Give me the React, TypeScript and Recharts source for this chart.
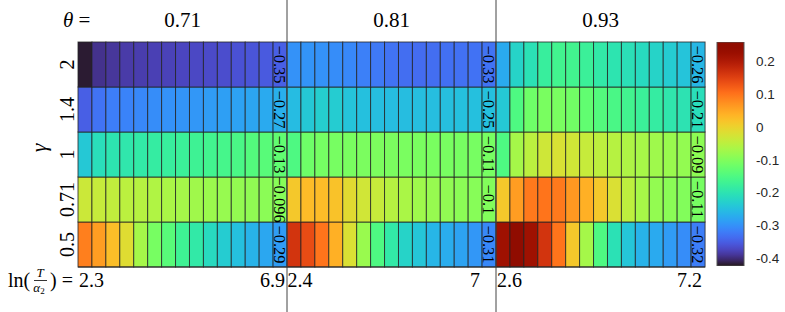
import React from "react";
import { BarChart, Bar, XAxis, YAxis } from "recharts";

// panel titles, row labels, x tick labels
const thetas = ["0.71", "0.81", "0.93"];
const gammas = ["0.5", "0.71", "1", "1.4", "2"]; // bottom to top
const xTickCols = [0, 14, 15, 29, 30, 44];
const xTickLabels = ["2.3", "6.9", "2.4", "7", "2.6", "7.2"];
const cbTicks = [-0.4, -0.3, -0.2, -0.1, 0, 0.1, 0.2];

// theta = 0.71
const p071_g2 = [-0.42, -0.395, -0.39, -0.385, -0.383, -0.38, -0.378, -0.375, -0.372, -0.37, -0.367, -0.363, -0.36, -0.355, -0.35];
const p071_g14 = [-0.35, -0.33, -0.32, -0.315, -0.31, -0.305, -0.3, -0.298, -0.295, -0.29, -0.287, -0.283, -0.28, -0.275, -0.27];
const p071_g1 = [-0.24, -0.21, -0.2, -0.195, -0.19, -0.185, -0.18, -0.175, -0.17, -0.165, -0.16, -0.155, -0.145, -0.14, -0.13];
const p071_g071 = [-0.035, -0.04, -0.045, -0.05, -0.055, -0.06, -0.065, -0.07, -0.074, -0.078, -0.082, -0.085, -0.088, -0.092, -0.096];
const p071_g05 = [0.09, 0.06, 0.025, -0.015, -0.07, -0.11, -0.14, -0.17, -0.19, -0.215, -0.235, -0.25, -0.265, -0.278, -0.29];

// theta = 0.81
const p081_g2 = [-0.3, -0.298, -0.3, -0.305, -0.31, -0.318, -0.325, -0.33, -0.335, -0.337, -0.335, -0.333, -0.332, -0.331, -0.33];
const p081_g14 = [-0.255, -0.24, -0.232, -0.235, -0.245, -0.25, -0.252, -0.253, -0.253, -0.252, -0.252, -0.251, -0.25, -0.25, -0.25];
const p081_g1 = [-0.15, -0.118, -0.112, -0.11, -0.108, -0.106, -0.105, -0.106, -0.107, -0.108, -0.108, -0.109, -0.11, -0.11, -0.11];
const p081_g071 = [0.013, 0.027, 0.027, 0.02, -0.012, -0.03, -0.04, -0.055, -0.065, -0.075, -0.082, -0.087, -0.092, -0.096, -0.1];
const p081_g05 = [0.165, 0.14, 0.1, 0.04, -0.02, -0.08, -0.15, -0.19, -0.225, -0.243, -0.262, -0.272, -0.282, -0.295, -0.31];

// theta = 0.93
const p093_g2 = [-0.275, -0.225, -0.205, -0.18, -0.165, -0.165, -0.175, -0.19, -0.2, -0.207, -0.215, -0.225, -0.235, -0.245, -0.26];
const p093_g14 = [-0.24, -0.15, -0.118, -0.108, -0.108, -0.115, -0.13, -0.145, -0.155, -0.165, -0.175, -0.185, -0.195, -0.202, -0.21];
const p093_g1 = [-0.15, -0.07, -0.05, -0.032, -0.022, -0.03, -0.04, -0.048, -0.055, -0.062, -0.068, -0.075, -0.08, -0.085, -0.09];
const p093_g071 = [0.013, 0.06, 0.095, 0.1, 0.095, 0.065, 0.04, 0.013, -0.02, -0.048, -0.068, -0.085, -0.093, -0.1, -0.11];
const p093_g05 = [0.22, 0.25, 0.22, 0.165, 0.1, 0.013, -0.07, -0.15, -0.205, -0.243, -0.265, -0.275, -0.29, -0.305, -0.32];

const rows: number[][] = [
  [...p071_g05, ...p081_g05, ...p093_g05],
  [...p071_g071, ...p081_g071, ...p093_g071],
  [...p071_g1, ...p081_g1, ...p093_g1],
  [...p071_g14, ...p081_g14, ...p093_g14],
  [...p071_g2, ...p081_g2, ...p093_g2],
];

const VMIN = -0.425;
const VMAX = 0.26;

// turbo colormap (polynomial fit)
function turbo(t: number) {
  t = Math.max(0, Math.min(1, t));
  const r = 0.13572138 + t * (4.6153926 + t * (-42.66032258 + t * (132.13108234 + t * (-152.94239396 + t * 59.28637943))));
  const g = 0.09140261 + t * (2.19418839 + t * (4.84296658 + t * (-14.18503333 + t * (4.27729857 + t * 2.82956604))));
  const b = 0.1066733 + t * (12.64194608 + t * (-60.58204836 + t * (110.36276771 + t * (-89.90310912 + t * 27.34824973))));
  const c = (x: number) => Math.round(Math.max(0, Math.min(1, x)) * 255);
  return `rgb(${c(r)},${c(g)},${c(b)})`;
}
const colorOf = (v: number) => turbo((v - VMIN) / (VMAX - VMIN));

const fmt = (v: number) => String(Number(v.toPrecision(2))).replace("-", "\u2212");

const data = rows[0].map((_, col) => {
  const d: any = { col };
  gammas.forEach((_, i) => (d[`r${i}`] = 1));
  return d;
});

const SERIF = "Liberation Serif, Times New Roman, serif";

const makeShape = (rowIdx: number) => (props: any) => {
  const { x, y, width, height, payload } = props;
  const col = payload.col;
  const v = rows[rowIdx][col];
  const isLast = col % 15 === 14;
  return (
    <g>
      <rect x={x} y={y} width={width} height={height} fill={colorOf(v)} stroke="rgba(35,35,35,0.8)" strokeWidth={1} />
      {isLast && (
        <text
          transform={`translate(${x + width / 2 - 0.5}, ${y + height / 2}) rotate(90)`}
          textAnchor="middle"
          dominantBaseline="central"
          style={{ fontFamily: SERIF }}
          fontSize={16.5}
          fill="#000"
        >
          {fmt(v)}
        </text>
      )}
    </g>
  );
};

const XTick = (props: any) => {
  const { x, payload } = props;
  const k = xTickCols.indexOf(Number(payload.value));
  if (k < 0) return null;
  const bw = 627 / 45;
  let tx = x;
  let anchor: "start" | "end" | "middle" = "middle";
  if (k === 0) { tx = x - bw / 2 + 1; anchor = "start"; }
  if (k === 1) { tx = x + bw / 2 - 2; anchor = "end"; }
  if (k === 2) { tx = x - bw / 2 + 0.5; anchor = "start"; }
  if (k === 3) { tx = x - bw; anchor = "middle"; }
  if (k === 4) { tx = x - bw / 2 + 1; anchor = "start"; }
  if (k === 5) { tx = x + bw / 2 - 3; anchor = "end"; }
  return (
    <text x={tx} y={287} textAnchor={anchor} style={{ fontFamily: SERIF }} fontSize={20} fill="#000">
      {xTickLabels[k]}
    </text>
  );
};

const YTick = (props: any) => {
  const { y, payload } = props;
  const i = Math.floor(Number(payload.value));
  return (
    <text
      transform={`translate(67, ${y}) rotate(-90)`}
      textAnchor="middle"
      dominantBaseline="central"
      style={{ fontFamily: SERIF }}
      fontSize={20}
      fill="#000"
    >
      {gammas[i]}
    </text>
  );
};

const gradStops = Array.from({ length: 41 }, (_, i) => i / 40);

export default function App() {
  const plotLeft = 78;
  const plotRight = 705;
  const bw = (plotRight - plotLeft) / 45;
  const dividers = [plotLeft + 15 * bw, plotLeft + 30 * bw];
  const serif = { fontFamily: SERIF };
  return (
    <div style={{ position: "absolute", left: 0, top: 0, width: 785, height: 312, background: "#fff" }}>
      <div style={{ position: "absolute", left: 0, top: 0 }}>
        <BarChart
          width={785}
          height={312}
          data={data}
          margin={{ top: 42, right: 80, bottom: 15, left: 38 }}
          barCategoryGap={0}
          barGap={0}
        >
          <XAxis
            dataKey="col"
            interval={0}
            tickLine={false}
            axisLine={{ stroke: "#262626" }}
            height={30}
            tick={<XTick />}
          />
          <YAxis
            type="number"
            domain={[0, 5]}
            ticks={[0.5, 1.5, 2.5, 3.5, 4.5]}
            width={40}
            axisLine={false}
            tickLine={false}
            tick={<YTick />}
          />
          {gammas.map((g, i) => (
            <Bar key={g} dataKey={`r${i}`} stackId="a" isAnimationActive={false} shape={makeShape(i)} />
          ))}
        </BarChart>
      </div>
      <div style={{ position: "absolute", left: 700, top: 0 }}>
        <BarChart
          width={85}
          height={312}
          data={[{ k: "cb", range: [VMIN, VMAX] }]}
          margin={{ top: 42, right: 0, bottom: 46, left: 17 }}
          barCategoryGap={0}
        >
          <defs>
            <linearGradient id="turboGrad" x1="0" y1="0" x2="0" y2="1">
              {gradStops.map((s) => (
                <stop key={s} offset={s} stopColor={turbo(1 - s)} />
              ))}
            </linearGradient>
          </defs>
          <XAxis dataKey="k" hide />
          <YAxis
            orientation="right"
            type="number"
            domain={[VMIN, VMAX]}
            allowDataOverflow
            ticks={cbTicks}
            width={41}
            axisLine={false}
            tickLine={false}
            tickMargin={6}
            tickFormatter={(v: number) => String(Number(v.toFixed(1)))}
            tick={{ fontSize: 13.5, fill: "#262626", fontFamily: "Liberation Sans, Arial, sans-serif" }}
          />
          <Bar dataKey="range" fill="url(#turboGrad)" stroke="#555" strokeWidth={1} isAnimationActive={false} />
        </BarChart>
      </div>
      <svg width={785} height={312} style={{ position: "absolute", left: 0, top: 0, pointerEvents: "none" }}>
        {dividers.map((dx) => (
          <line key={dx} x1={dx} x2={dx} y1={0} y2={312} stroke="#444" strokeWidth={1} />
        ))}
        <text x={63} y={27} style={serif} fontSize={21} fill="#000">
          <tspan fontStyle="italic">θ</tspan> =
        </text>
        {thetas.map((t, i) => (
          <text
            key={t}
            x={plotLeft + (i * 15 + 7.5) * bw}
            y={27}
            textAnchor="middle"
            style={serif}
            fontSize={21}
            fill="#000"
          >
            {t}
          </text>
        ))}
        <text
          transform="translate(38, 148) rotate(-90)"
          textAnchor="middle"
          dominantBaseline="central"
          style={serif}
          fontStyle="italic"
          fontSize={22}
          fill="#000"
        >
          γ
        </text>
        <text x={8} y={287} style={serif} fontSize={20} fill="#000">ln(</text>
        <text x={40} y={277} textAnchor="middle" style={serif} fontStyle="italic" fontSize={13} fill="#000">T</text>
        <line x1={34} x2={47} y1={280.5} y2={280.5} stroke="#000" strokeWidth={0.8} />
        <text x={39} y={292} textAnchor="middle" style={serif} fontSize={13} fill="#000">
          <tspan fontStyle="italic">α</tspan>
          <tspan fontSize={9} dy={2}>2</tspan>
        </text>
        <text x={50} y={287} style={serif} fontSize={20} fill="#000">) =</text>
      </svg>
    </div>
  );
}
